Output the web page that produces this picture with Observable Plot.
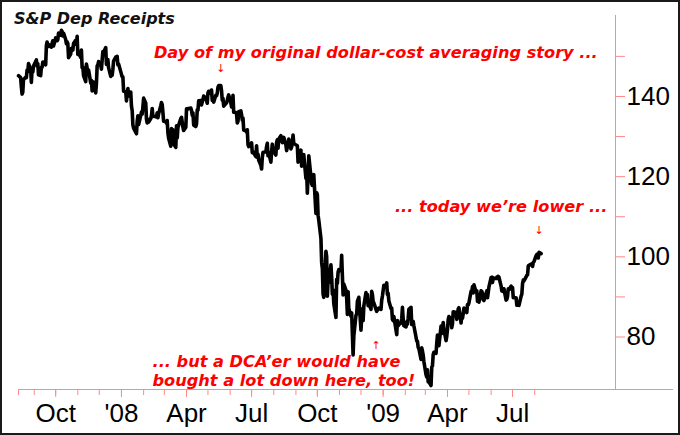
<!DOCTYPE html>
<html><head><meta charset="utf-8">
<script src="https://cdn.jsdelivr.net/npm/d3@7"></script>
<script src="https://cdn.jsdelivr.net/npm/@observablehq/plot@0.6"></script>
<style>
body{margin:0;background:#fff}
#wrap{position:relative;width:680px;height:435px;overflow:hidden;background:#fff}
#border{position:absolute;left:0;top:0;width:680px;height:435px;box-sizing:border-box;border:2px solid #1a1a1a;pointer-events:none}
#title{position:absolute;left:14px;top:11px;font:italic bold 16px/16px "DejaVu Sans",sans-serif;color:#111;white-space:nowrap}
</style></head><body>
<div id="wrap"><div id="chart"></div><div id="title">S&amp;P Dep Receipts</div><div id="border"></div></div>
<script>
// SPY daily closes
const closes2007 = [
["2007-08-10",145.2],["2007-08-13",144.7],["2007-08-14",142.4],["2007-08-15",140.6],["2007-08-16",141.1],["2007-08-17",144.2],
["2007-08-20",144.8],["2007-08-21",144.7],["2007-08-22",146.6],["2007-08-23",146.2],["2007-08-24",148.2],["2007-08-27",146.8],
["2007-08-28",143.5],["2007-08-29",146.8],["2007-08-30",146.1],["2007-08-31",147.6],["2007-09-04",149.1],["2007-09-05",147.6],
["2007-09-06",148.2],["2007-09-07",145.4],["2007-09-10",145.2],["2007-09-11",147.3],["2007-09-12",147.3],["2007-09-13",148.6],
["2007-09-14",148.6],["2007-09-17",147.9],["2007-09-18",152.7],["2007-09-19",153.6],["2007-09-20",152.4],["2007-09-21",153.0],
["2007-09-24",152.4],["2007-09-25",152.3],["2007-09-26",153.3],["2007-09-27",153.9],["2007-09-28",152.6],["2007-10-01",154.6],
["2007-10-02",154.5],["2007-10-03",153.9],["2007-10-04",154.2],["2007-10-05",155.8],["2007-10-08",155.3],["2007-10-09",156.5],
["2007-10-10",156.2],["2007-10-11",155.1],["2007-10-12",155.8],["2007-10-15",154.2],["2007-10-16",153.2],["2007-10-17",153.6],
["2007-10-18",153.2],["2007-10-19",149.7],["2007-10-22",150.6],["2007-10-23",152.0],["2007-10-24",151.8],["2007-10-25",151.6],
["2007-10-26",153.2],["2007-10-29",154.0],["2007-10-30",153.0],["2007-10-31",155.0],["2007-11-01",150.5],["2007-11-02",150.9],
["2007-11-05",149.7],["2007-11-06",151.6],["2007-11-07",147.2],["2007-11-08",147.3],["2007-11-09",145.2],["2007-11-12",143.7],
["2007-11-13",148.1],["2007-11-14",147.1],["2007-11-15",145.7],["2007-11-16",146.6],["2007-11-19",143.4],["2007-11-20",144.0],
["2007-11-21",141.4],["2007-11-23",143.6],["2007-11-26",140.9],["2007-11-27",143.3],["2007-11-28",147.6],["2007-11-29",147.9],
["2007-11-30",148.7],["2007-12-03",147.7],["2007-12-04",146.8],["2007-12-05",149.1],["2007-12-06",151.2],["2007-12-07",151.0],
["2007-12-10",152.2],["2007-12-11",148.0],["2007-12-12",148.9],["2007-12-13",149.2],["2007-12-14",147.2],["2007-12-17",145.0],
["2007-12-18",145.6],["2007-12-19",145.3],["2007-12-20",146.8],["2007-12-21",148.8],["2007-12-24",149.8],["2007-12-26",150.0],
["2007-12-27",147.9],["2007-12-28",148.1],["2007-12-31",146.2]
];
const closes2008 = [
["2008-01-02",144.9],["2008-01-03",144.9],["2008-01-04",141.3],["2008-01-07",141.2],["2008-01-08",138.9],["2008-01-09",140.9],
["2008-01-10",142.0],["2008-01-11",140.1],["2008-01-14",141.1],["2008-01-15",137.6],["2008-01-16",136.5],["2008-01-17",132.9],
["2008-01-18",132.1],["2008-01-22",130.7],["2008-01-23",133.8],["2008-01-24",135.2],["2008-01-25",133.0],["2008-01-28",135.3],
["2008-01-29",136.1],["2008-01-30",135.6],["2008-01-31",137.4],["2008-02-01",139.6],["2008-02-04",138.3],["2008-02-05",134.3],
["2008-02-06",133.4],["2008-02-07",134.3],["2008-02-08",133.6],["2008-02-11",134.5],["2008-02-12",135.3],["2008-02-13",137.0],
["2008-02-14",135.0],["2008-02-15",135.1],["2008-02-19",134.9],["2008-02-20",135.9],["2008-02-21",134.7],["2008-02-22",135.7],
["2008-02-25",137.7],["2008-02-26",138.5],["2008-02-27",138.0],["2008-02-28",136.0],["2008-02-29",133.8],["2008-03-03",133.7],
["2008-03-04",133.3],["2008-03-05",134.0],["2008-03-06",130.9],["2008-03-07",129.6],["2008-03-10",127.6],["2008-03-11",132.0],
["2008-03-12",131.0],["2008-03-13",131.7],["2008-03-14",128.2],["2008-03-17",127.3],["2008-03-18",132.7],["2008-03-19",129.7],
["2008-03-20",132.3],["2008-03-24",134.5],["2008-03-25",134.8],["2008-03-26",133.6],["2008-03-27",132.3],["2008-03-28",131.5],
["2008-03-31",132.3],["2008-04-01",136.9],["2008-04-02",136.7],["2008-04-03",137.0],["2008-04-04",137.0],["2008-04-07",137.1],
["2008-04-08",136.5],["2008-04-09",135.3],["2008-04-10",135.9],["2008-04-11",132.9],["2008-04-14",132.5],["2008-04-15",133.2],
["2008-04-16",136.7],["2008-04-17",136.6],["2008-04-18",138.9],["2008-04-21",139.0],["2008-04-22",137.9],["2008-04-23",138.6],
["2008-04-24",139.2],["2008-04-25",140.1],["2008-04-28",139.6],["2008-04-29",139.0],["2008-04-30",138.3],["2008-05-01",140.9],
["2008-05-02",141.3],["2008-05-05",140.7],["2008-05-06",141.6],["2008-05-07",139.0],["2008-05-08",139.5],["2008-05-09",138.6],
["2008-05-12",140.3],["2008-05-13",140.2],["2008-05-14",140.8],["2008-05-15",142.3],["2008-05-16",142.7],["2008-05-19",142.7],
["2008-05-20",141.4],["2008-05-21",139.1],["2008-05-22",139.5],["2008-05-23",137.6],["2008-05-27",138.4],["2008-05-28",139.1],
["2008-05-29",139.8],["2008-05-30",140.4],["2008-06-02",138.4],["2008-06-03",137.4],["2008-06-04",137.5],["2008-06-05",140.3],
["2008-06-06",136.1],["2008-06-09",136.0],["2008-06-10",135.6],["2008-06-11",133.4],["2008-06-12",133.8],["2008-06-13",136.2],
["2008-06-16",136.4],["2008-06-17",135.5],["2008-06-18",134.1],["2008-06-19",134.6],["2008-06-20",131.6],["2008-06-23",131.5],
["2008-06-24",131.1],["2008-06-25",131.7],["2008-06-26",128.0],["2008-06-27",127.5],["2008-06-30",127.9],["2008-07-01",128.4],
["2008-07-02",126.0],["2008-07-03",126.2],["2008-07-07",125.0],["2008-07-08",127.7],["2008-07-09",124.8],["2008-07-10",125.6],
["2008-07-11",124.1],["2008-07-14",122.8],["2008-07-15",121.9],["2008-07-16",124.8],["2008-07-17",126.1],["2008-07-18",126.1],
["2008-07-21",126.2],["2008-07-22",127.5],["2008-07-23",128.3],["2008-07-24",125.2],["2008-07-25",126.0],["2008-07-28",123.6],
["2008-07-29",126.2],["2008-07-30",128.1],["2008-07-31",126.8],["2008-08-01",126.3],["2008-08-04",125.4],["2008-08-05",128.6],
["2008-08-06",129.2],["2008-08-07",127.1],["2008-08-08",129.4],["2008-08-11",130.2],["2008-08-12",128.9],["2008-08-13",128.5],
["2008-08-14",129.3],["2008-08-15",129.8],["2008-08-18",127.9],["2008-08-19",126.5],["2008-08-20",127.4],["2008-08-21",127.9],
["2008-08-22",129.4],["2008-08-25",126.9],["2008-08-26",127.4],["2008-08-27",128.4],["2008-08-28",130.4],["2008-08-29",128.3],
["2008-09-02",127.8],["2008-09-03",127.7],["2008-09-04",123.6],["2008-09-05",124.1],["2008-09-08",126.6],["2008-09-09",122.6],
["2008-09-10",123.6],["2008-09-11",125.3],["2008-09-12",125.5],["2008-09-15",119.6],["2008-09-16",121.4],["2008-09-17",115.9],
["2008-09-18",120.3],["2008-09-19",125.2],["2008-09-22",120.0],["2008-09-23",118.2],["2008-09-24",117.8],["2008-09-25",120.0],
["2008-09-26",120.5],["2008-09-29",110.8],["2008-09-30",116.0],["2008-10-01",115.5],["2008-10-02",110.4],["2008-10-03",109.1],
["2008-10-06",104.6],["2008-10-07",98.6],["2008-10-08",97.1],["2008-10-09",90.7],["2008-10-10",89.9],["2008-10-13",101.4],
["2008-10-14",100.1],["2008-10-15",90.2],["2008-10-16",94.2],["2008-10-17",93.6],["2008-10-20",98.0],["2008-10-21",94.9],
["2008-10-22",90.7],["2008-10-23",91.7],["2008-10-24",88.3],["2008-10-27",84.9],["2008-10-28",94.4],["2008-10-29",93.4],
["2008-10-30",96.2],["2008-10-31",96.8],["2008-11-03",96.5],["2008-11-04",100.4],["2008-11-05",95.3],["2008-11-06",90.5],
["2008-11-07",93.2],["2008-11-10",91.7],["2008-11-11",89.7],["2008-11-12",85.6],["2008-11-13",91.3],["2008-11-14",87.1],
["2008-11-17",85.2],["2008-11-18",86.0],["2008-11-19",80.6],["2008-11-20",75.5],["2008-11-21",80.2],["2008-11-24",85.4],
["2008-11-25",85.7],["2008-11-26",88.9],["2008-11-28",89.9],["2008-12-01",81.7],["2008-12-02",84.7],["2008-12-03",87.0],
["2008-12-04",84.1],["2008-12-05",87.7],["2008-12-08",91.1],["2008-12-09",89.3],["2008-12-10",90.6],["2008-12-11",87.8],
["2008-12-12",88.3],["2008-12-15",86.9],["2008-12-16",91.4],["2008-12-17",90.6],["2008-12-18",88.9],["2008-12-19",88.5],
["2008-12-22",86.9],["2008-12-23",86.4],["2008-12-24",86.7],["2008-12-26",87.2],["2008-12-29",86.9],["2008-12-30",89.2],
["2008-12-31",90.2]
];
const closes2009 = [
["2009-01-02",92.9],["2009-01-05",92.8],["2009-01-06",93.5],["2009-01-07",90.6],["2009-01-08",90.9],["2009-01-09",89.0],
["2009-01-12",87.1],["2009-01-13",87.2],["2009-01-14",84.4],["2009-01-15",84.1],["2009-01-16",85.1],["2009-01-20",80.6],
["2009-01-21",84.1],["2009-01-22",82.8],["2009-01-23",83.1],["2009-01-26",83.5],["2009-01-27",84.5],["2009-01-28",87.4],
["2009-01-29",84.6],["2009-01-30",82.8],["2009-02-02",82.5],["2009-02-03",83.8],["2009-02-04",83.2],["2009-02-05",84.7],
["2009-02-06",86.9],["2009-02-09",87.4],["2009-02-10",83.1],["2009-02-11",83.9],["2009-02-12",83.9],["2009-02-13",82.8],
["2009-02-17",79.0],["2009-02-18",78.9],["2009-02-19",77.4],["2009-02-20",77.1],["2009-02-23",74.4],["2009-02-24",77.3],
["2009-02-25",76.5],["2009-02-26",75.5],["2009-02-27",73.9],["2009-03-02",70.6],["2009-03-03",70.0],["2009-03-04",71.8],
["2009-03-05",68.8],["2009-03-06",68.8],["2009-03-09",67.9],["2009-03-10",72.5],["2009-03-11",72.8],["2009-03-12",75.6],
["2009-03-13",76.2],["2009-03-16",75.9],["2009-03-17",78.5],["2009-03-18",80.5],["2009-03-19",79.3],["2009-03-20",77.8],
["2009-03-23",82.7],["2009-03-24",80.9],["2009-03-25",81.9],["2009-03-26",83.6],["2009-03-27",81.9],["2009-03-30",79.1],
["2009-03-31",80.2],["2009-04-01",81.9],["2009-04-02",84.3],["2009-04-03",85.1],["2009-04-06",84.3],["2009-04-07",82.3],
["2009-04-08",83.3],["2009-04-09",86.3],["2009-04-13",86.1],["2009-04-14",84.4],["2009-04-15",85.6],["2009-04-16",87.0],
["2009-04-17",87.3],["2009-04-20",83.5],["2009-04-21",85.4],["2009-04-22",84.7],["2009-04-23",85.8],["2009-04-24",87.2],
["2009-04-27",86.4],["2009-04-28",86.1],["2009-04-29",88.1],["2009-04-30",88.0],["2009-05-01",88.5],["2009-05-04",91.4],
["2009-05-05",91.1],["2009-05-06",92.6],["2009-05-07",91.0],["2009-05-08",93.0],["2009-05-11",91.2],["2009-05-12",91.5],
["2009-05-13",88.9],["2009-05-14",89.6],["2009-05-15",88.7],["2009-05-18",91.5],["2009-05-19",91.4],["2009-05-20",90.8],
["2009-05-21",89.3],["2009-05-22",89.1],["2009-05-26",91.5],["2009-05-27",89.8],["2009-05-28",91.1],["2009-05-29",92.5],
["2009-06-01",94.8],["2009-06-02",94.9],["2009-06-03",93.6],["2009-06-04",94.8],["2009-06-05",94.6],["2009-06-08",94.6],
["2009-06-09",94.9],["2009-06-10",94.6],["2009-06-11",95.1],["2009-06-12",94.9],["2009-06-15",92.7],["2009-06-16",91.5],
["2009-06-17",91.4],["2009-06-18",92.0],["2009-06-19",92.0],["2009-06-22",89.2],["2009-06-23",89.4],["2009-06-24",90.1],
["2009-06-25",92.0],["2009-06-26",91.8],["2009-06-29",92.7],["2009-06-30",91.9],["2009-07-01",92.3],["2009-07-02",89.8],
["2009-07-06",89.8],["2009-07-07",87.9],["2009-07-08",87.9],["2009-07-09",88.1],["2009-07-10",87.9],["2009-07-13",90.2],
["2009-07-14",90.7],["2009-07-15",93.3],["2009-07-16",94.2],["2009-07-17",94.0],["2009-07-20",95.0],["2009-07-21",95.4],
["2009-07-22",95.5],["2009-07-23",97.7],["2009-07-24",97.9],["2009-07-27",98.2],["2009-07-28",97.9],["2009-07-29",97.6],
["2009-07-30",98.6],["2009-07-31",98.8],["2009-08-03",100.3],["2009-08-04",100.6],["2009-08-05",100.3],["2009-08-06",99.7],
["2009-08-07",101.1],["2009-08-10",100.8]
];

// axis ticks and labels
const xLabelDates = ["2007-10-01","2008-01-01","2008-04-01","2008-07-01","2008-10-01","2009-01-01","2009-04-01","2009-07-01"];
const xLabels = ["Oct","'08","Apr","Jul","Oct","'09","Apr","Jul"];
const yMajorTicks = [80, 100, 120, 140];
const yMinorTicks = [90, 110, 130, 150];

// annotations
const noteDates = ["2008-05-19", "2009-08-10", "2008-12-22"];
const noteValues = [142.7, 100.8, 86.9];
const noteTexts = [
  "Day of my original dollar-cost averaging story ...",
  "... today we\u2019re lower ...",
  "... but a DCA\u2019er would have\nbought a lot down here, too!"
];
const noteArrows = ["\u2193", "\u2193", "\u2191"];

const series = [...closes2007, ...closes2008, ...closes2009].map(([d, v]) => ({date: new Date(d), close: v}));
const xDomain = [new Date("2007-08-10"), new Date("2009-11-22")];
const yDomain = [66.9, 160.2];
const minorMonths = [xDomain[0], ...d3.utcMonths(new Date("2007-09-01"), new Date("2009-08-02"))];
const labelDates = xLabelDates.map(d => new Date(d));
const labelFor = d => { const i = labelDates.findIndex(t => +t === +d); return i >= 0 ? xLabels[i] : ""; };
const notes = noteDates.map((d, i) => ({date: new Date(d), value: noteValues[i], text: noteTexts[i], arrow: noteArrows[i]}));

const axisRed = "#ff8a8a";
const red = "#ff0000";
const noteFont = {fontFamily: "DejaVu Sans", fontStyle: "italic", fontWeight: "bold", fontSize: 16.2, fill: red};
const arrowFont = {fontFamily: "DejaVu Sans", fontSize: 11, fill: red, text: "arrow", x: "date", y: "value", lineAnchor: "middle"};

const chart = Plot.plot({
  width: 680, height: 435,
  marginLeft: 18, marginRight: 65, marginTop: 15, marginBottom: 46,
  style: {fontFamily: "'Liberation Sans', Arial, sans-serif", background: "white", color: "black"},
  x: {type: "utc", domain: xDomain},
  y: {domain: yDomain},
  marks: [
    Plot.axisX(minorMonths, {tickSize: 6, tickFormat: () => "", stroke: axisRed, label: null}),
    Plot.axisX(labelDates, {tickSize: 8, tickPadding: 6, tickFormat: labelFor, stroke: axisRed, fill: "black", fontSize: 26, label: null}),
    Plot.axisY(yMinorTicks, {anchor: "right", tickSize: 9, tickFormat: () => "", stroke: axisRed, label: null}),
    Plot.axisY(yMajorTicks, {anchor: "right", tickSize: 9, tickPadding: 2, stroke: axisRed, fill: "black", fontSize: 26, label: null}),
    Plot.frame({anchor: "right", stroke: axisRed}),
    Plot.frame({anchor: "bottom", stroke: axisRed, insetRight: -57}),
    Plot.line(series, {x: "date", y: "close", stroke: "black", strokeWidth: 3.6, strokeLinejoin: "round"}),
    Plot.text([notes[0]], {...noteFont, x: "date", y: "value", text: "text", textAnchor: "middle", lineAnchor: "bottom", dx: 155, dy: -28}),
    Plot.text([notes[1]], {...noteFont, x: "date", y: "value", text: "text", textAnchor: "middle", lineAnchor: "bottom", dx: -40, dy: -41.5}),
    Plot.text([notes[2]], {...noteFont, x: "date", y: "value", text: "text", textAnchor: "start", lineAnchor: "bottom", lineHeight: 1.18, dx: -223.5, dy: 77}),
    Plot.text([notes[0]], {...arrowFont, dy: -17}),
    Plot.text([notes[1]], {...arrowFont, dx: -2, dy: -23}),
    Plot.text([notes[2]], {...arrowFont, dy: 36})
  ]
});
document.getElementById("chart").appendChild(chart);
</script>
</body></html>
